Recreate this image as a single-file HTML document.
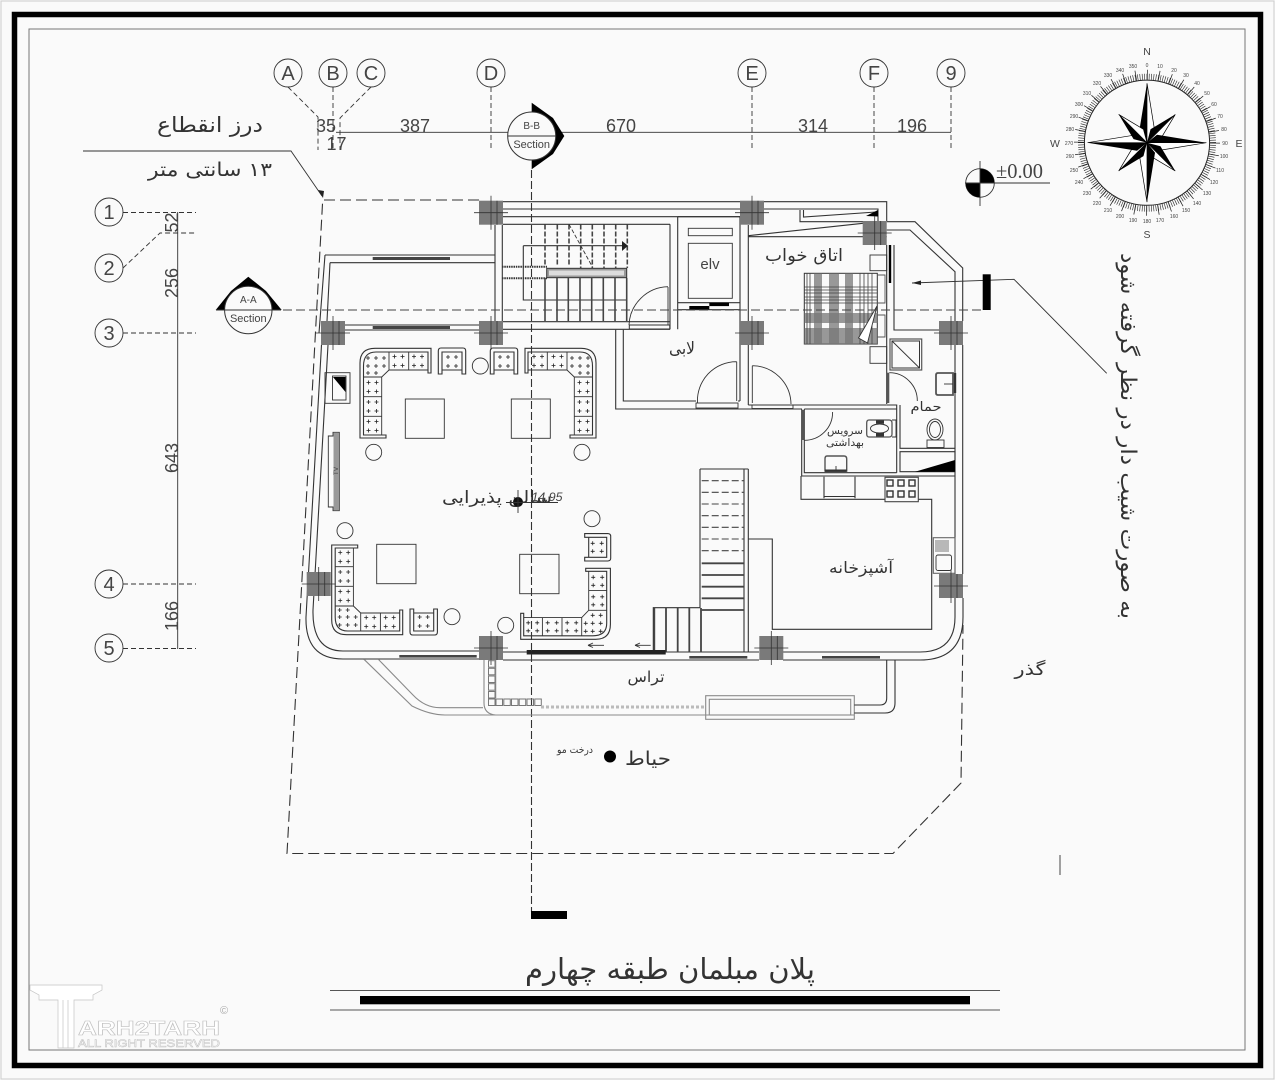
<!DOCTYPE html>
<html lang="fa"><head><meta charset="utf-8"><title>Plan</title>
<style>
html,body{margin:0;padding:0;background:#fafafa}
svg{display:block}
.w{fill:none;stroke:#333;stroke-width:1.1}
.g{fill:none;stroke:#8a8a8a;stroke-width:1.1}
.d{fill:none;stroke:#333;stroke-width:1.1;stroke-dasharray:6 3}
.l{fill:none;stroke:#333;stroke-width:.9}
.fa{font-family:"DejaVu Sans",sans-serif;fill:#333;text-anchor:middle}
.en{font-family:"Liberation Sans",sans-serif;fill:#444;text-anchor:middle}
.t{font-family:"Liberation Sans",sans-serif;fill:#444;font-size:5px;text-anchor:middle}
</style></head><body>
<svg width="1275" height="1080" viewBox="0 0 1275 1080" xmlns="http://www.w3.org/2000/svg">
<defs>
<g id="col"><rect x="-12" y="-12" width="24" height="24" fill="#7a7a7a"/><path d="M-17,0H17M0,-17V17M-8,0V0M6,-12V12" stroke="#333" stroke-width=".8" fill="none"/></g>
<path id="pl" d="M3,5h4M5,3v4M11,5h4M13,3v4M3,14h4M5,12v4M11,14h4M13,12v4" stroke="#222" stroke-width=".8" fill="none"/>
<g id="sofa">
<path class="w" d="M431,373V348.3H375Q360,348.3 360,363V438H386V435H363.5V366Q363.5,352 376,352H428V373Z" fill="#fafafa"/>
<path class="l" d="M389,352V370M408.7,352V370M381.7,377V435M363.5,377H381.7M363.5,396.7H381.7M363.5,416.3H381.7M389,370H428M389,370L381.7,377"/>
<use href="#pl" x="389.5" y="351.5"/><use href="#pl" x="409" y="351.5"/>
<use href="#pl" x="363.5" y="377.5"/><use href="#pl" x="363.5" y="397"/><use href="#pl" x="363.5" y="416.5"/>
<path d="M366,358h4M368,356v4M374,358h4M376,356v4M382,358h4M384,356v4M366,366h4M368,364v4M374,366h4M376,364v4M382,366h4M384,364v4M366,373h4M368,371v4M374,373h4M376,371v4" stroke="#222" stroke-width=".8" fill="none"/>
<path class="w" d="M438.3,374V351Q438.3,348 441,348H463Q465.7,348 465.7,351V374H462V352H442V374ZM442,370H462"/>
<use href="#pl" x="443" y="352"/>
</g>
</defs>
<rect width="1275" height="1080" fill="#fafafa"/>
<rect x="1" y="1" width="1273" height="1078" fill="none" stroke="#ccc" stroke-width="1"/>
<rect x="14.5" y="14.5" width="1246" height="1051" fill="none" stroke="#000" stroke-width="5.5"/>
<rect x="29" y="29" width="1216" height="1021" fill="none" stroke="#777" stroke-width="1"/>

<!-- top grid -->
<g class="l"><circle cx="288" cy="73" r="14"/><circle cx="333" cy="73" r="14"/><circle cx="371" cy="73" r="14"/><circle cx="491" cy="73" r="14"/><circle cx="752" cy="73" r="14"/><circle cx="874" cy="73" r="14"/><circle cx="951" cy="73" r="14"/></g>
<g class="en" font-size="20"><text x="288" y="80">A</text><text x="333" y="80">B</text><text x="371" y="80">C</text><text x="491" y="80">D</text><text x="752" y="80">E</text><text x="874" y="80">F</text><text x="951" y="80">9</text></g>
<path d="M288,87L318,117V150M333,87V150M371,87L340,118V150M491,87V150M752,87V150M874,87V150M951,87V150" fill="none" stroke="#333" stroke-width=".9" stroke-dasharray="5 3"/>
<path class="l" d="M336,132.3H951"/>
<g class="en" font-size="18"><text x="326" y="132">35</text><text x="336.5" y="150">17</text><text x="415" y="132">387</text><text x="621" y="132">670</text><text x="813" y="132">314</text><text x="912" y="132">196</text></g>

<!-- left grid -->
<g class="l"><circle cx="109" cy="212" r="14"/><circle cx="109" cy="268" r="14"/><circle cx="109" cy="333" r="14"/><circle cx="109" cy="584" r="14"/><circle cx="109" cy="648" r="14"/></g>
<g class="en" font-size="20"><text x="109" y="219">1</text><text x="109" y="275">2</text><text x="109" y="340">3</text><text x="109" y="591">4</text><text x="109" y="655">5</text></g>
<path d="M123,212.5H196M123,268L160,233H196M123,333H196M123,584H196M123,648.5H196" fill="none" stroke="#333" stroke-width=".9" stroke-dasharray="5 3"/>
<path class="l" d="M177.7,212V649"/>
<g class="en" font-size="18">
<text transform="translate(178,222.5) rotate(-90)">52</text>
<text transform="translate(178,283) rotate(-90)">256</text>
<text transform="translate(178,458) rotate(-90)">643</text>
<text transform="translate(178,616) rotate(-90)">166</text>
</g>

<!-- notes -->
<text class="fa" x="210" y="132" font-size="21" direction="rtl" textLength="106" lengthAdjust="spacingAndGlyphs">درز انقطاع</text>
<path class="l" d="M83,151H291L322,196"/><path d="M318,190L323,198L324,191Z" fill="#222"/>
<text class="fa" x="210" y="176" font-size="19" direction="rtl" textLength="124" lengthAdjust="spacingAndGlyphs">۱۳ سانتی متر</text>

<!-- elevation -->
<circle class="l" cx="980" cy="183" r="14.3" fill="#fafafa"/>
<path d="M980,183V168.7A14.3,14.3 0 0 1 994.3,183ZM980,183V197.3A14.3,14.3 0 0 1 965.7,183Z" fill="#000"/>
<path class="l" d="M965,183H1050M980,161V206"/>
<text class="en" x="1019.5" y="178" font-size="21" style="font-family:'Liberation Serif',serif" textLength="47" lengthAdjust="spacingAndGlyphs">±0.00</text>

<!-- compass -->
<g transform="translate(1147,142.7)">
<circle r="62.6" fill="none" stroke="#222" stroke-width="1"/>
<circle r="66" fill="none" stroke="#222" stroke-width="6" stroke-dasharray=".6 1.7"/>
<circle r="68" fill="none" stroke="#222" stroke-width="10" stroke-dasharray=".7 11.17" transform="rotate(-90)"/>
<g id="c1">
<g><polygon points="0,0 0,-59.4 -8,-10" fill="#000"/><polygon points="0,0 0,-59.4 8,-10" fill="#fff" stroke="#000" stroke-width=".7"/></g>
<g transform="rotate(45)"><polygon points="0,0 0,-40 -7,-12" fill="#000"/><polygon points="0,0 0,-40 7,-12" fill="#fff" stroke="#000" stroke-width=".7"/></g>
</g>
<use href="#c1" transform="rotate(90)"/><use href="#c1" transform="rotate(180)"/><use href="#c1" transform="rotate(270)"/>
</g>
<g class="en" font-size="10.5"><text x="1147" y="55">N</text><text x="1147" y="238">S</text><text x="1239" y="147">E</text><text x="1055" y="147">W</text></g>
<g class="t"><text x="1147" y="67">0</text><text x="1160" y="68">10</text><text x="1174" y="72">20</text><text x="1186" y="77">30</text><text x="1197" y="85">40</text><text x="1207" y="95">50</text><text x="1214" y="106">60</text><text x="1220" y="118">70</text><text x="1224" y="131">80</text><text x="1225" y="145">90</text><text x="1224" y="158">100</text><text x="1220" y="172">110</text><text x="1214" y="184">120</text><text x="1207" y="195">130</text><text x="1197" y="205">140</text><text x="1186" y="212">150</text><text x="1174" y="218">160</text><text x="1160" y="222">170</text><text x="1147" y="223">180</text><text x="1133" y="222">190</text><text x="1120" y="218">200</text><text x="1108" y="212">210</text><text x="1097" y="205">220</text><text x="1087" y="195">230</text><text x="1079" y="184">240</text><text x="1074" y="172">250</text><text x="1070" y="158">260</text><text x="1069" y="145">270</text><text x="1070" y="131">280</text><text x="1074" y="118">290</text><text x="1079" y="106">300</text><text x="1087" y="95">310</text><text x="1097" y="85">320</text><text x="1108" y="77">330</text><text x="1120" y="72">340</text><text x="1133" y="68">350</text></g>

<!-- right note -->
<text class="fa" transform="translate(1121,436) rotate(90)" font-size="22" textLength="366" lengthAdjust="spacingAndGlyphs">به صورت شیب دار در نظر گرفته شود</text>
<path class="l" d="M912,283L1014,279.3L1106.7,373.3"/><path d="M912,283L921,280.5V285Z" fill="#222"/>
<rect x="982.7" y="274.3" width="8" height="35.7" fill="#000"/>

<!-- dashed site boundary -->
<path d="M479,200H322.7L287,853.5H893L961,783L963,625" fill="none" stroke="#333" stroke-width="1.1" stroke-dasharray="11 5"/>

<!-- outer walls -->
<path class="w" d="M503,201.7H886.7V221M503,209H740M764,209H878V241M503,216.7H740M503,224.3H670"/>
<path class="w" d="M325,255H495M319,333L325,255M330,262.7H495M330,262.7L327,321"/>
<path class="w" d="M345,325H479M345,330H479M503,321.7H670M503,329.3H670"/>
<path class="w" d="M321.5,345L306,617Q305,659 343,659H479M328,345L313,610Q312,651 343,651H479"/>
<path class="w" d="M503,660H759M783,660H920Q963,660 963,617V598M503,652H759M783,652H920Q955,652 955,617V598"/>
<path class="w" d="M886.7,221.7H915L962.7,268V321M962.7,345V574M886.7,230H910L955,271.7V321M955,345V574"/>
<path class="w" d="M495,225V321M502.3,225V321"/>

<!-- stairs -->
<path class="w" d="M670,224.3V329.3M677.7,216.7V329.3M523.3,245.7H627M523.3,245.7V300H627"/>
<rect x="546.7" y="268.3" width="80" height="9.4" fill="#999" stroke="#333" stroke-width="1"/>
<rect x="549" y="270.5" width="75" height="5" fill="#ddd"/>
<path d="M502,266.7H547M502,278.3H547" fill="none" stroke="#333" stroke-width="2" stroke-dasharray="1.5 .8"/>
<path d="M545,224.5V266M557.3,224.5V266M569,224.5V266M580.7,224.5V268M592.3,224.5V268M604,224.5V268M615.7,224.5V268M627.3,224.5V268" fill="none" stroke="#444" stroke-width="1.6" stroke-dasharray="5 2"/>
<path d="M545,278V321M557,278V321M568.3,278V321M580,278V321M591.7,278V321M603.3,278V321M615,278V321M626.7,278V321" fill="none" stroke="#444" stroke-width="1.6"/>
<path d="M569,224.3L592.3,266.7" fill="none" stroke="#333" stroke-width=".9" stroke-dasharray="4 2"/>
<path d="M622,241L628,245.7L622,251Z" fill="#222"/>
<!-- stair door -->
<path class="l" d="M668,287V325M668,286.7A40,40 0 0 0 629,325"/>
<rect x="629.3" y="325" width="40.5" height="4" fill="none" stroke="#333" stroke-width="1"/>

<!-- elevator -->
<path class="w" d="M677.7,216.7H740M740,216.7V401M748.3,225V321M748.3,345V405M677.7,302.7H740M677.7,309.7H740"/>
<rect x="688.3" y="243.3" width="44" height="55" class="l"/><rect x="688.3" y="228.3" width="44" height="7.4" class="l"/>
<text class="en" x="710" y="269" font-size="15">elv</text>
<rect x="689.3" y="306" width="20" height="3.4" fill="#000"/><rect x="709.3" y="302.7" width="19.7" height="3.4" fill="#000"/>

<!-- lobby -->
<path class="w" d="M615.7,329.7V409H802M623.3,329.7V401H696M738,401H740"/>
<path class="l" d="M736.7,361.7V401M736.7,361.7A39,39 0 0 0 697.5,403"/>
<rect x="696" y="403" width="42" height="5" fill="none" stroke="#333" stroke-width=".9"/>
<text class="fa" x="682" y="354" font-size="17" textLength="26" lengthAdjust="spacingAndGlyphs">لابی</text>

<!-- bedroom -->
<path class="w" d="M748.3,235.7L863,223.3M748.3,236.7H886.7M886.7,245V404M748.3,405H886.7M894,245V330H939"/>
<path class="w" d="M800,210V221.7H863M803.5,210V217L876,212"/>
<polygon points="866,216 878,210 878,216.5" fill="#000"/>
<path class="l" d="M752.3,365.7V403M752.3,365.7A39,39 0 0 1 791,404"/>
<rect x="752" y="405" width="41" height="3.5" fill="none" stroke="#333" stroke-width=".9"/>
<rect x="870" y="255" width="16.7" height="15.7" class="l"/><rect x="870" y="346.7" width="16.7" height="16.6" class="l"/>
<path d="M890,245V283" stroke="#000" stroke-width="2.4" fill="none"/>
<!-- bed -->
<rect x="804.3" y="273.3" width="73" height="70.7" fill="#fafafa" stroke="#333"/>
<g fill="#777" fill-opacity=".75"><rect x="814" y="273.3" width="8" height="70.7"/><rect x="829" y="273.3" width="10" height="70.7"/><rect x="845" y="273.3" width="8" height="70.7"/><rect x="804.3" y="313" width="73" height="10"/><rect x="804.3" y="328" width="73" height="16"/></g>
<path d="M804.3,287H877M804.3,290H877M804.3,293H877M804.3,297H877M804.3,300H877M804.3,303H877M860,273V344M864,273V344M868,273V344M872,273V344M807,273V344M810,273V344" stroke="#444" stroke-width=".8" fill="none"/>
<polygon points="858.5,338 877,306 867.5,343" fill="#fff" stroke="#333" stroke-width=".9"/>
<path d="M877,275H885V303H877M877,315H885V337H877" fill="none" stroke="#555" stroke-width=".9"/>
<text class="fa" x="804" y="261" font-size="17" textLength="78" lengthAdjust="spacingAndGlyphs">اتاق خواب</text>

<!-- bath -->
<rect x="890" y="339" width="31.7" height="31" fill="none" stroke="#555" stroke-width="1.2"/>
<rect x="892" y="341" width="27.5" height="27" fill="none" stroke="#333" stroke-width="1"/>
<path class="l" d="M892,341L919.5,368"/>
<path d="M888,372.7V403" stroke="#555" stroke-width="2.6" fill="none"/>
<path class="l" d="M889.3,372.7A28,28 0 0 1 917.3,401"/>
<path class="w" d="M886.7,405H896.7V472.7M900,405V448.3H955M900,451.7H955V471.7H900ZM804.3,409H896.7M801.7,409V476H955M804.3,409V472.7H896.7"/>
<polygon points="915,471.7 955,460 955,471.7" fill="#000"/>
<path d="M938,373H953V395H938Q936,395 936,393V375Q936,373 938,373Z" fill="none" stroke="#555" stroke-width="1.8"/><path d="M955,373V393" stroke="#333" stroke-width="2.4"/><path class="l" d="M944,384H953"/>
<ellipse cx="935" cy="429.5" rx="8" ry="10.5" class="l"/><ellipse cx="935" cy="429.5" rx="5.5" ry="8" class="l"/>
<rect x="927" y="440" width="17" height="7.5" class="l"/>
<text class="fa" x="926" y="411" font-size="13" textLength="31" lengthAdjust="spacingAndGlyphs">حمام</text>

<!-- WC -->
<path d="M803,410V440" stroke="#555" stroke-width="2.6" fill="none"/>
<path class="l" d="M832.6,412A28,28 0 0 1 804.3,440.3"/>
<path d="M869,420H889Q892,420 892,423V434Q892,437 889,437H869Q866.7,437 866.7,434V423Q866.7,420 869,420Z" fill="none" stroke="#555" stroke-width="1.3"/>
<rect x="876" y="420.3" width="8" height="3.5" fill="#333"/><rect x="876" y="433" width="8" height="3.5" fill="#333"/>
<ellipse cx="879.5" cy="428.5" rx="9" ry="4.5" class="l"/>
<path class="l" d="M892,420H896V437H892"/>
<path d="M827,456H844Q846.7,456 846.7,459V471H825V459Q825,456 827,456Z" fill="none" stroke="#555" stroke-width="1.4"/><path class="l" d="M836,466V471"/>
<rect x="825" y="469.5" width="21.7" height="2.4" fill="#333"/>
<text class="fa" x="845" y="434" font-size="10.5" textLength="36" lengthAdjust="spacingAndGlyphs">سرویس</text>
<text class="fa" x="845" y="446" font-size="10.5" textLength="38" lengthAdjust="spacingAndGlyphs">بهداشتی</text>

<!-- kitchen -->
<path class="w" d="M801,476V499.3H931.7V629.3H772.3V539H748.3M824,476.7V498.3M855,476.7V498.3M824,496.5H855"/>
<rect x="885" y="477.3" width="33.3" height="24.4" fill="#fafafa" stroke="#444" stroke-width="1.1"/>
<g fill="none" stroke="#333" stroke-width="1.4"><rect x="887" y="480" width="6" height="6"/><rect x="898" y="480" width="6" height="6"/><rect x="909" y="480" width="6" height="6"/><rect x="887" y="491" width="6" height="6"/><rect x="898" y="491" width="6" height="6"/><rect x="909" y="491" width="6" height="6"/></g>
<rect x="933.3" y="537.7" width="21.7" height="35.6" fill="none" stroke="#666" stroke-width="1.1"/>
<path d="M936,540V552M938,540V552M940,540V552M942,540V552M944,540V552M946,540V552M948,540V552" stroke="#777" stroke-width="1" fill="none"/>
<rect x="936" y="555" width="15.5" height="15.5" rx="2" class="l"/>
<text class="fa" x="861" y="573" font-size="15.5" textLength="64" lengthAdjust="spacingAndGlyphs">آشپزخانه</text>

<!-- main stairs -->
<path class="w" d="M700,469H748.3M700,469V607.7H653.3V652M744,469V652M748.3,469V652"/>
<path d="M701.7,480.7H744M701.7,492.3H744M701.7,504H744M701.7,515.7H744M701.7,527.3H744M701.7,539H744M701.7,550.7H744" fill="none" stroke="#444" stroke-width="1.1" stroke-dasharray="7 3"/>
<path d="M701.7,563.3H744M701.7,575H744M701.7,586.7H744M701.7,598.3H744M701.7,610H744" fill="none" stroke="#444" stroke-width="1.8"/>
<path d="M654.3,608V652M666,608V652M677.7,608V652M689.3,608V652M701,608V652" fill="none" stroke="#444" stroke-width="1.8"/>
<path d="M650.7,645.3H635M635,645.3L640,643M635,645.3L640,647.5M604,645.3H588M588,645.3L593,643M588,645.3L593,647.5" class="l"/>
<rect x="526.7" y="650" width="139" height="4.5" fill="#222"/>

<!-- windows -->
<g fill="#444"><rect x="399.3" y="655" width="77.4" height="2.6"/><rect x="689.3" y="656" width="58" height="2.6"/><rect x="822" y="656" width="58" height="2.6"/><rect x="372.7" y="326" width="77.3" height="3"/><rect x="372.7" y="257" width="77.3" height="3"/></g>

<!-- columns -->
<use href="#col" x="491" y="212.7"/><use href="#col" x="752" y="212.7"/><use href="#col" x="874.7" y="233"/>
<use href="#col" x="491" y="333"/><use href="#col" x="752" y="333"/><use href="#col" x="951" y="333"/><use href="#col" x="333" y="333"/>
<use href="#col" x="318.7" y="584"/><use href="#col" x="491" y="648"/><use href="#col" x="771.3" y="648"/><use href="#col" x="951" y="586"/>

<!-- furniture -->
<use href="#sofa"/>
<use href="#sofa" transform="translate(956,0) scale(-1,1)"/>
<use href="#sofa" transform="translate(-28.3,983) scale(1,-1)"/>
<use href="#sofa" transform="matrix(0,-1,-1,0,958.7,999.3)"/>
<g class="l"><rect x="405.3" y="399" width="39" height="39.3"/><rect x="511.3" y="399" width="39" height="39.3"/><rect x="376.7" y="544.3" width="39.3" height="39.4"/><rect x="519.7" y="554.3" width="39.3" height="39.4"/>
<circle cx="480.3" cy="366" r="8"/><circle cx="373.7" cy="452.3" r="8"/><circle cx="582" cy="452.3" r="8"/><circle cx="345" cy="530.7" r="8"/><circle cx="592" cy="518.7" r="8"/><circle cx="452" cy="616.7" r="8"/><circle cx="505.7" cy="625.3" r="8"/></g>
<rect x="325" y="372.7" width="25" height="30.6" class="l"/><rect x="332.5" y="376" width="13.5" height="24" class="l"/><polygon points="333,377 345.5,377 345.5,392" fill="#000"/>
<path class="l" d="M328.3,436H333V432.3H339.3V510.7H333V507H328.3Z"/><rect x="333.5" y="433" width="5.5" height="77" fill="#999"/>
<text class="en" transform="translate(338,471) rotate(-90)" font-size="6.5" fill="#222">TV</text>

<!-- section lines (drawn over the plan) -->
<path d="M283,310H982" fill="none" stroke="#444" stroke-width="1" stroke-dasharray="9 4"/>
<path d="M531.5,170V912" fill="none" stroke="#333" stroke-width="1.1" stroke-dasharray="8 3"/>
<rect x="531" y="911" width="36" height="8" fill="#000"/>

<!-- center labels -->
<text class="fa" x="497" y="503" font-size="17" textLength="110" lengthAdjust="spacingAndGlyphs">سالن پذیرایی</text>
<circle cx="518" cy="502" r="5" fill="#111"/><path class="l" d="M518,490V513M506,502.5H558"/>
<text class="en" x="547" y="501" font-size="12" font-style="italic" textLength="31" lengthAdjust="spacingAndGlyphs">14.95</text>

<!-- section markers -->
<polygon points="531.7,102.7 553,118 564.3,136 553,154 531.7,169.3" fill="#000"/>
<circle cx="531.7" cy="136" r="24" fill="#fafafa" stroke="#333"/><path class="l" d="M507.7,136H555.7"/>
<text class="en" x="531.7" y="129" font-size="10">B-B</text><text class="en" x="531.7" y="148" font-size="11">Section</text>
<polygon points="248.3,276.7 266,291 281.7,310 215.7,310 231,291" fill="#000"/>
<circle cx="248.3" cy="310" r="23.7" fill="#fafafa" stroke="#333"/><path class="l" d="M216,310H281"/>
<text class="en" x="248.3" y="303" font-size="10">A-A</text><text class="en" x="248.3" y="322" font-size="11">Section</text>

<!-- terrace -->
<path class="g" d="M364,659.3L412,706Q430,715 445,715H854M378.3,659.3L413,695Q425,707.7 440,707.7H483M484,660V703Q484,714 495.7,715M495.7,660V698"/>
<g fill="none" stroke="#777" stroke-width="1"><rect x="488.5" y="660.7" width="6.5" height="6.5"/><rect x="488.5" y="668.3" width="6.5" height="6.5"/><rect x="488.5" y="676" width="6.5" height="6.5"/><rect x="488.5" y="683.7" width="6.5" height="6.5"/><rect x="488.5" y="691.5" width="6.5" height="6.5"/><rect x="488.5" y="699" width="6.5" height="6.5"/><rect x="496" y="699" width="6.5" height="6.5"/><rect x="503.8" y="699" width="6.5" height="6.5"/><rect x="511.5" y="699" width="6.5" height="6.5"/><rect x="519.2" y="699" width="6.5" height="6.5"/><rect x="527" y="699" width="6.5" height="6.5"/><rect x="534.8" y="699" width="6.5" height="6.5"/></g>
<path d="M541,707H705" stroke="#bbb" stroke-width="3" stroke-dasharray="3 2" fill="none"/>
<rect x="705.7" y="695.7" width="148.6" height="23.6" class="g"/><rect x="709.3" y="699.3" width="141.4" height="15.7" class="g"/>
<path class="w" d="M854.3,705H880Q886.7,705 886.7,698V660M854.3,713H885Q895,713 895,703V660"/>
<text class="fa" x="646" y="682" font-size="15" textLength="37" lengthAdjust="spacingAndGlyphs">تراس</text>
<text class="fa" x="1030" y="675" font-size="17" textLength="31" lengthAdjust="spacingAndGlyphs">گذر</text>
<text class="fa" x="648" y="765" font-size="19" textLength="46" lengthAdjust="spacingAndGlyphs">حیاط</text>
<text class="fa" x="575" y="753" font-size="10" textLength="36" lengthAdjust="spacingAndGlyphs">درخت مو</text>
<circle cx="610" cy="756.5" r="6" fill="#000"/>
<path class="l" d="M1060,855V875"/>

<!-- title -->
<text class="fa" x="670" y="979" font-size="29" textLength="290" lengthAdjust="spacingAndGlyphs">پلان مبلمان طبقه چهارم</text>
<path d="M330,990.5H1000M330,1010H1000" stroke="#555" stroke-width="1.1" fill="none"/>
<rect x="360" y="996" width="610" height="8.3" fill="#000"/>

<!-- watermark -->
<g fill="#fff" stroke="#c4c4c4" stroke-width=".7">
<path d="M30,985H102V990L93,995V1000H74V1048H58V1000H39V995L30,990Z"/>
<path d="M63,1000V1048M68,1000V1048" fill="none"/>
</g>
<text x="78" y="1035" font-family="Liberation Sans,sans-serif" font-weight="bold" font-size="20" fill="#fff" stroke="#c0c0c0" stroke-width=".6" textLength="142" lengthAdjust="spacingAndGlyphs">ARH2TARH</text>
<text x="78" y="1047" font-family="Liberation Sans,sans-serif" font-size="11" fill="#fff" stroke="#c0c0c0" stroke-width=".5" textLength="142" lengthAdjust="spacingAndGlyphs">ALL RIGHT RESERVED</text>
<text x="224" y="1014" font-family="Liberation Sans,sans-serif" font-size="11" fill="#aaa" text-anchor="middle">©</text>
</svg>
</body></html>
